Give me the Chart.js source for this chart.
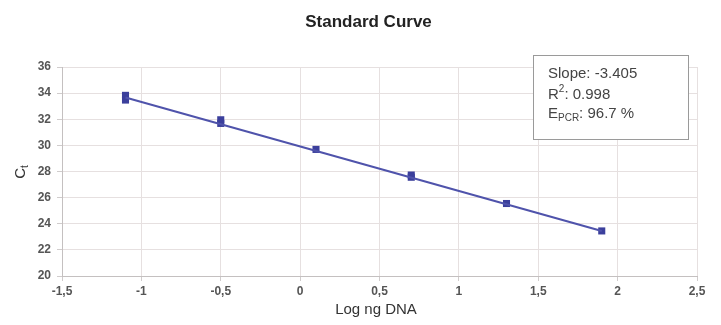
<!DOCTYPE html>
<html>
<head>
<meta charset="utf-8">
<script src="https://cdn.jsdelivr.net/npm/chart.js@4.4.1/dist/chart.umd.min.js"></script>
<style>
html,body{margin:0;padding:0;background:#fff;}
#wrap{width:721px;height:325px;position:relative;}
</style>
</head>
<body>
<div id="wrap"><canvas id="c" width="721" height="325"></canvas></div>
<script>
// ---- data ----
const chartTitle = "Standard Curve";
const xAxisTitle = "Log ng DNA";
const sampleLogDNA = [-1.1, -1.1, -0.5, -0.5, 0.1, 0.7, 0.7, 1.3, 1.9];
const sampleCt     = [33.83, 33.47, 31.96, 31.68, 29.69, 27.73, 27.56, 25.55, 23.45];
const fitLogDNA = [-1.1, 1.9];
const fitCt     = [33.66, 23.45];
const xRange = [-1.5, 2.5];
const yRange = [20, 36];
const xStep = 0.5;
const yStep = 2;
const statSlope = "-3.405";
const statR2 = "0.998";
const statEpcr = "96.7 %";

const FONT = '"Liberation Sans", Arial, Helvetica, sans-serif';

const textPlugin = {
  id: 'texts',
  afterDraw(chart) {
    const ctx = chart.ctx;
    const ca = chart.chartArea;
    ctx.save();
    // title
    ctx.fillStyle = '#222';
    ctx.font = 'bold 17px ' + FONT;
    ctx.textAlign = 'center';
    ctx.textBaseline = 'middle';
    ctx.fillText(chartTitle, 368.5, 22);
    // x title
    ctx.fillStyle = '#333';
    ctx.font = '15px ' + FONT;
    ctx.fillText(xAxisTitle, 376, 310);
    // y title C_t
    ctx.save();
    ctx.translate(20, 172);
    ctx.rotate(-Math.PI / 2);
    ctx.textAlign = 'left';
    ctx.textBaseline = 'alphabetic';
    ctx.font = '15px ' + FONT;
    const wC = ctx.measureText('C').width;
    ctx.font = '10px ' + FONT;
    const wt = ctx.measureText('t').width;
    const total = wC + wt;
    ctx.font = '15px ' + FONT;
    ctx.fillText('C', -total / 2, 5);
    ctx.font = '10px ' + FONT;
    ctx.fillText('t', -total / 2 + wC, 8);
    ctx.restore();
    // stats box
    const bx = 533.5, by = 55.5, bw = 155, bh = 84;
    ctx.fillStyle = '#fff';
    ctx.fillRect(bx, by, bw, bh);
    ctx.strokeStyle = '#9a9a9a';
    ctx.lineWidth = 1;
    ctx.strokeRect(bx, by, bw, bh);
    ctx.fillStyle = '#444';
    ctx.textAlign = 'left';
    ctx.textBaseline = 'alphabetic';
    const tx = 548;
    ctx.font = '15px ' + FONT;
    ctx.fillText('Slope: ' + statSlope, tx, 78);
    // R^2
    ctx.fillText('R', tx, 98.5);
    let w = ctx.measureText('R').width;
    ctx.font = '10px ' + FONT;
    ctx.fillText('2', tx + w, 92);
    w += ctx.measureText('2').width;
    ctx.font = '15px ' + FONT;
    ctx.fillText(': ' + statR2, tx + w, 98.5);
    // E_PCR
    ctx.fillText('E', tx, 118);
    w = ctx.measureText('E').width;
    ctx.font = '10px ' + FONT;
    ctx.fillText('PCR', tx + w, 121);
    w += ctx.measureText('PCR').width;
    ctx.font = '15px ' + FONT;
    ctx.fillText(': ' + statEpcr, tx + w, 118);
    ctx.restore();
  }
};

const fmt = v => String(Math.round(v * 10) / 10).replace('.', ',');

new Chart(document.getElementById('c'), {
  type: 'scatter',
  data: {
    datasets: [
      {
        type: 'line',
        data: fitLogDNA.map((x, i) => ({x, y: fitCt[i]})),
        borderColor: '#4f53ab',
        borderWidth: 2,
        pointRadius: 0,
        fill: false,
        tension: 0
      },
      {
        data: sampleLogDNA.map((x, i) => ({x, y: sampleCt[i]})),
        pointStyle: 'rect',
        pointRadius: 5,
        backgroundColor: '#3b3f9c',
        borderColor: '#3b3f9c',
        borderWidth: 0
      }
    ]
  },
  options: {
    responsive: false,
    animation: false,
    devicePixelRatio: 1,
    layout: {padding: {top: 67, right: 24, left: 0, bottom: 0}},
    plugins: {legend: {display: false}, tooltip: {enabled: false}, title: {display: false}},
    scales: {
      x: {
        type: 'linear',
        min: xRange[0], max: xRange[1],
        afterFit: s => { s.height = 49; },
        ticks: {stepSize: xStep, callback: fmt, color: '#555', font: {family: FONT, size: 12, weight: 'bold'}, padding: 3, maxRotation: 0},
        grid: {color: '#e6e0e0', tickColor: '#d0cccc', tickLength: 5},
        border: {color: '#c4c0c0'}
      },
      y: {
        type: 'linear',
        min: yRange[0], max: yRange[1],
        afterFit: s => { s.width = 62; },
        ticks: {stepSize: yStep, callback: fmt, color: '#555', font: {family: FONT, size: 12, weight: 'bold'}, padding: 6},
        grid: {color: '#e6e0e0', tickColor: '#d0cccc', tickLength: 5},
        border: {color: '#c4c0c0'}
      }
    }
  },
  plugins: [textPlugin]
});
</script>
</body>
</html>
